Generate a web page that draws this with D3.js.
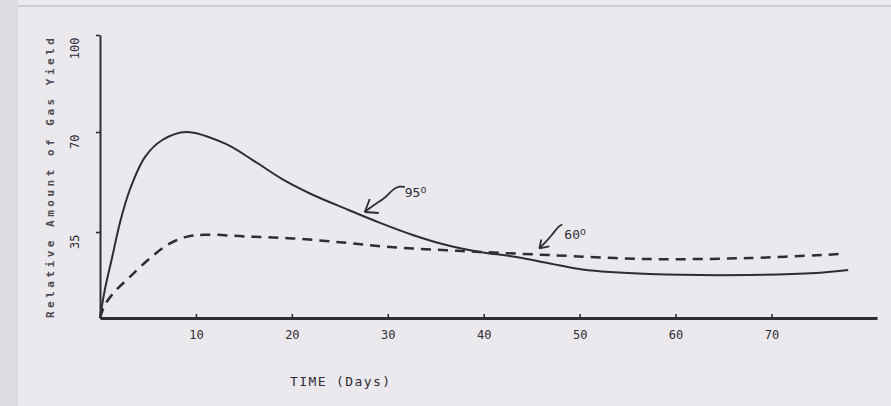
<!DOCTYPE html>
<html>
<head>
<meta charset="utf-8">
<script src="https://cdn.jsdelivr.net/npm/d3@7"></script>
<style>
body { margin: 0; background: #ebe8ee; }
svg { display: block; }
</style>
</head>
<body>
<script>
// values (hand drawn axis, so y scale is piecewise)
var days95  = [0, 0.5, 1.25, 2.1, 3.1, 4.7, 6.5, 9, 13, 16, 19, 22, 25.7, 29.2, 32.6, 36.1, 39.6, 43.4, 46.9, 50.3, 57.3, 67.7, 74.7, 78];
var yield95 = [0, 11.4, 24.4, 38.5, 49.7, 61.3, 67.2, 70, 66, 60, 53.5, 48.3, 43, 38.2, 33.8, 29.7, 26.9, 24.8, 22.2, 19.7, 17.9, 17.5, 18.3, 19.5];

var days60  = [0, 0.5, 1.5, 3, 5, 7, 9, 11, 15.1, 20, 25.7, 29.2, 32.6, 36.1, 39.6, 46.9, 57.3, 67.7, 77];
var yield60 = [0, 5.3, 10.6, 16.3, 23.6, 29.7, 33, 33.9, 33.2, 32.4, 30.6, 29.2, 28.3, 27.6, 26.9, 25.6, 24.0, 24.4, 26.0];

var xTicks = [10, 20, 30, 40, 50, 60, 70];
var yTicks = [35, 70, 100];

var INK = "#2e2d35";
var FONT = "'DejaVu Sans Mono', monospace";
var W = 891, H = 406;

var svg = d3.select("body").append("svg")
    .attr("width", W)
    .attr("height", H);

// scan edges
svg.append("rect").attr("x", 0).attr("y", 0).attr("width", 18).attr("height", H).style("fill", "#dddae0");
svg.append("rect").attr("x", 18).attr("y", 5).attr("width", W - 18).attr("height", 2).style("fill", "#cfccd4");

var x = d3.scaleLinear().domain([0, 81]).range([100, 877]);
var y = d3.scaleLinear().domain([0, 35, 70, 100]).range([318, 232, 132, 35]);

// x axis
var xAxis = svg.append("g")
    .attr("transform", "translate(0," + y(0) + ")")
    .call(d3.axisBottom(x).tickValues(xTicks).tickSizeInner(-4).tickSizeOuter(0));
xAxis.select(".domain").style("stroke", INK).style("stroke-width", 3);
xAxis.selectAll(".tick line").style("stroke", INK).style("stroke-width", 1.6);
xAxis.selectAll(".tick text")
    .attr("y", 12)
    .style("font-family", FONT)
    .style("font-size", "12px")
    .style("fill", INK);

// y axis
var yAxis = svg.append("g")
    .attr("transform", "translate(" + x(0) + ",0)")
    .call(d3.axisLeft(y).tickValues(yTicks).tickSizeInner(4).tickSizeOuter(0));
yAxis.select(".domain").style("stroke", INK).style("stroke-width", 2);
yAxis.selectAll(".tick line").style("stroke", INK).style("stroke-width", 1.6);
yAxis.selectAll(".tick text")
    .attr("transform", "rotate(-90)")
    .attr("x", -2)
    .attr("y", -21)
    .attr("dy", 0)
    .attr("text-anchor", "end")
    .style("font-family", FONT)
    .style("font-size", "12px")
    .style("fill", INK);

// axis titles
svg.append("text")
    .attr("transform", "translate(" + (x(0) - 46) + "," + y(0) + ") rotate(-90)")
    .attr("textLength", y(0) - y(100) - 3)
    .attr("lengthAdjust", "spacing")
    .style("font-family", FONT)
    .style("font-size", "11px")
    .style("font-weight", "bold")
    .style("fill", "#4a4950")
    .text("Relative Amount of Gas Yield");

svg.append("text")
    .attr("x", 340)
    .attr("y", 386)
    .attr("text-anchor", "middle")
    .attr("textLength", 100)
    .attr("lengthAdjust", "spacing")
    .style("font-family", FONT)
    .style("font-size", "13px")
    .style("fill", INK)
    .text("TIME (Days)");

// curves
var line = d3.line()
    .x(function(d) { return x(d[0]); })
    .y(function(d) { return y(d[1]); })
    .curve(d3.curveCatmullRom.alpha(0.5));

svg.append("path")
    .datum(d3.zip(days95, yield95))
    .attr("d", line)
    .style("fill", "none")
    .style("stroke", INK)
    .style("stroke-width", 2);

svg.append("path")
    .datum(d3.zip(days60, yield60))
    .attr("d", line)
    .style("fill", "none")
    .style("stroke", INK)
    .style("stroke-width", 2.5)
    .style("stroke-dasharray", "10,7");

// hand drawn labels with curly arrows (tip in data units, shape in px)
var notes = [
    { label: "95", tipDay: 27.6, tipVal: 42, shaft: [[0,0],[9,-7],[22,-15],[28,-23],[35,-26],[40,-25]], head: [[5,-13],[14,1]], tx: 40, ty: -15 },
    { label: "60", tipDay: 45.8, tipVal: 28.3, shaft: [[0,0],[6,-6],[13,-14],[19,-22],[23,-24]], head: [[2,-9],[10,-2]], tx: 25, ty: -9 }
];

var curly = d3.line().curve(d3.curveBasis);

notes.forEach(function(n) {
    var g = svg.append("g")
        .attr("transform", "translate(" + x(n.tipDay) + "," + y(n.tipVal) + ")");
    g.append("path")
        .attr("d", curly(n.shaft))
        .style("fill", "none")
        .style("stroke", INK)
        .style("stroke-width", 1.8);
    n.head.forEach(function(h) {
        g.append("line")
            .attr("x1", 0).attr("y1", 0)
            .attr("x2", h[0]).attr("y2", h[1])
            .style("stroke", INK)
            .style("stroke-width", 1.8);
    });
    var t = g.append("text")
        .attr("x", n.tx)
        .attr("y", n.ty)
        .style("font-family", FONT)
        .style("font-size", "13px")
        .style("fill", INK)
        .text(n.label);
    t.append("tspan")
        .attr("dy", -4)
        .style("font-size", "10px")
        .text("o");
});
</script>
</body>
</html>
